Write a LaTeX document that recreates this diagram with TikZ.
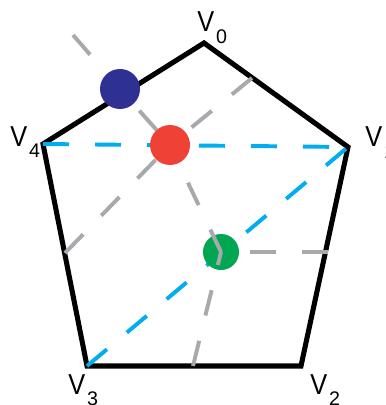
\documentclass[tikz,border=0pt]{standalone}
\usepackage{fontspec}
\setmainfont{Liberation Sans}
\usetikzlibrary{calc}

\definecolor{edgeblue}{HTML}{00AEEF}
\definecolor{guidegray}{HTML}{A7A9AC}
\definecolor{dotnavy}{HTML}{2E3192}
\definecolor{dotred}{HTML}{EF4136}
\definecolor{dotgreen}{HTML}{00A651}

\newcommand\vlab[1]{\scalebox{0.88}[1]{V}\kern0.5mm\raisebox{-2.8mm}{\fontsize{14}{14}\selectfont #1}}

\begin{document}
\begin{tikzpicture}[
		x=0.25mm,
		y=-0.25mm,
		vlabel/.style={
			anchor=base west,
			inner sep=0pt,
			font=\fontsize{20.5}{20.5}\selectfont
		},
		rim/.style={
			draw=black,
			line width=3.6pt,
			line join=miter
		},
		diag/.style={
			draw=edgeblue,
			line width=2.8pt,
			dash pattern=on 6.5mm off 6.5mm
		},
		guide/.style={
			draw=guidegray,
			line width=2.8pt,
			dash pattern=on 6.5mm off 6.5mm
		},
		dot/.style={
			circle,
			inner sep=0pt,
			minimum size=#1
		}
	]
		\useasboundingbox (0,0) rectangle (385,405);

		% pentagon corners
		\coordinate (v0) at (204,43);
		\coordinate (v1) at (348,147);
		\coordinate (v2) at (301,366);
		\coordinate (v3) at (87,366);
		\coordinate (v4) at (43,144);

		% free ends of the grey guides
		\coordinate (g1) at (73,35);
		\coordinate (g2) at (252,78);
		\coordinate (g3) at (65,253);
		\coordinate (g4) at (193,366);
		\coordinate (g5) at (328,252);

		\draw[rim] (v0) -- (v1) -- (v2) -- (v3) -- (v4) -- cycle;

		\foreach \a/\b in {v4/v1,v3/v1}
			\draw[diag] (\a) -- (\b);

		\node[dot=9mm] (green) at (221,252) {};
		\draw[guide] (g5) -- (green.center);
		\fill[dotgreen] (green) circle (4.5mm);

		\node[dot=10mm] (red) at (170,145) {};
		\node[dot=10mm] (blue) at (120,89) {};

		% grey guides, one dashed piece per segment
		\draw[guide] (g1) -- (blue.center);
		\draw[guide,dash phase=8mm] (red.center) -- (blue.center);
		\draw[guide,dash pattern=on 6.2mm off 6.8mm] (green.center) -- (red.center);
		\draw[guide] (g4) -- (green.center);
		\draw[guide] (g2) -- (red.center);
		\draw[guide] (g3) -- (red.center);

		\fill[dotred] (red) circle (5mm);
		\fill[dotnavy] (blue) circle (5mm);

		\node[vlabel] (l0) at (197,32) {\vlab{0}};
		\node[vlabel] (l1) at (365,147) {\vlab{1}};
		\node[vlabel] (l2) at (310,394) {\vlab{2}};
		\node[vlabel] (l3) at (68,394) {\vlab{3}};
		\node[vlabel] (l4) at (10,146) {\vlab{4}};
	\end{tikzpicture}
\end{document}
